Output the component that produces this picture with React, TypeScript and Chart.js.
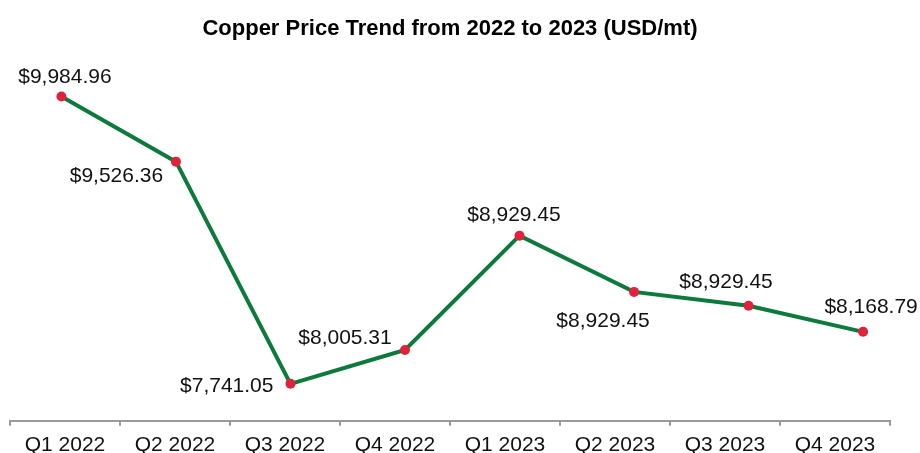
import React, { useEffect, useRef } from "react";
import { Chart, registerables } from "chart.js";

Chart.register(...registerables);

const categories = ["Q1 2022", "Q2 2022", "Q3 2022", "Q4 2022", "Q1 2023", "Q2 2023", "Q3 2023", "Q4 2023"];
const prices = [9984.96, 9476, 7741.05, 8005.31, 8898, 8459, 8350, 8147];
const priceLabels = ["$9,984.96", "$9,526.36", "$7,741.05", "$8,005.31", "$8,929.45", "$8,929.45", "$8,929.45", "$8,168.79"];
const labelDx = [3.5, -59.5, -63.7, -60, -5.5, -31, -22.5, 8];
const labelDy = [-19.5, 14.3, 2.7, -12, -20.7, 29.7, -24, -25];

const FONT = "'Liberation Sans', Arial, Helvetica, sans-serif";

const labelPlugin = {
  id: "pointLabels",
  afterDatasetsDraw(chart: any) {
    const ctx = chart.ctx;
    const meta = chart.getDatasetMeta(0);
    ctx.save();
    ctx.font = `21px ${FONT}`;
    ctx.fillStyle = "#111";
    ctx.textAlign = "center";
    ctx.textBaseline = "middle";
    meta.data.forEach((pt: any, i: number) => {
      ctx.fillText(priceLabels[i], pt.x + labelDx[i], pt.y + labelDy[i]);
    });
    ctx.restore();
  },
};

export default function App() {
  const ref = useRef<HTMLCanvasElement | null>(null);
  useEffect(() => {
    if (!ref.current) return;
    const chart = new Chart(ref.current, {
      type: "line",
      data: {
        labels: categories,
        datasets: [
          {
            data: prices.map((v, i) => ({ x: i, y: v })),
            xAxisID: "xl",
            borderColor: "#0b7a3b",
            borderWidth: 4,
            pointRadius: 5,
            pointHoverRadius: 5,
            pointBackgroundColor: "#e0223c",
            pointBorderWidth: 0,
            tension: 0,
            clip: false as any,
          },
        ],
      },
      options: {
        responsive: false,
        animation: false,
        devicePixelRatio: 1,
        layout: { padding: { left: 10, right: 30, top: 0, bottom: 4 } },
        plugins: {
          legend: { display: false },
          tooltip: { enabled: false },
          title: {
            display: true,
            text: "Copper Price Trend from 2022 to 2023 (USD/mt)",
            color: "#000",
            font: { family: FONT, size: 22, weight: "bold" },
            padding: { top: 16, bottom: 10 },
          },
        },
        scales: {
          x: {
            type: "category",
            position: "bottom",
            offset: true,
            grid: {
              offset: true,
              drawOnChartArea: false,
              drawTicks: true,
              tickLength: 5,
              color: "#9a9a9a",
              lineWidth: 2,
            },
            border: { display: true, color: "#9a9a9a", width: 2 },
            ticks: {
              color: "#111",
              font: { family: FONT, size: 21 },
              padding: 7,
              maxRotation: 0,
              autoSkip: false,
            },
          },
          xl: {
            type: "linear",
            display: false,
            min: -0.449,
            max: 7.235,
          },
          y: {
            type: "linear",
            display: false,
            min: 7452.3,
            max: 10329,
          },
        },
      },
      plugins: [labelPlugin],
    });
    return () => chart.destroy();
  }, []);
  return (
    <div style={{ position: "absolute", left: 0, top: 0, width: 920, height: 453, overflow: "hidden", background: "#fff" }}>
      <canvas ref={ref} width={920} height={469} />
    </div>
  );
}
